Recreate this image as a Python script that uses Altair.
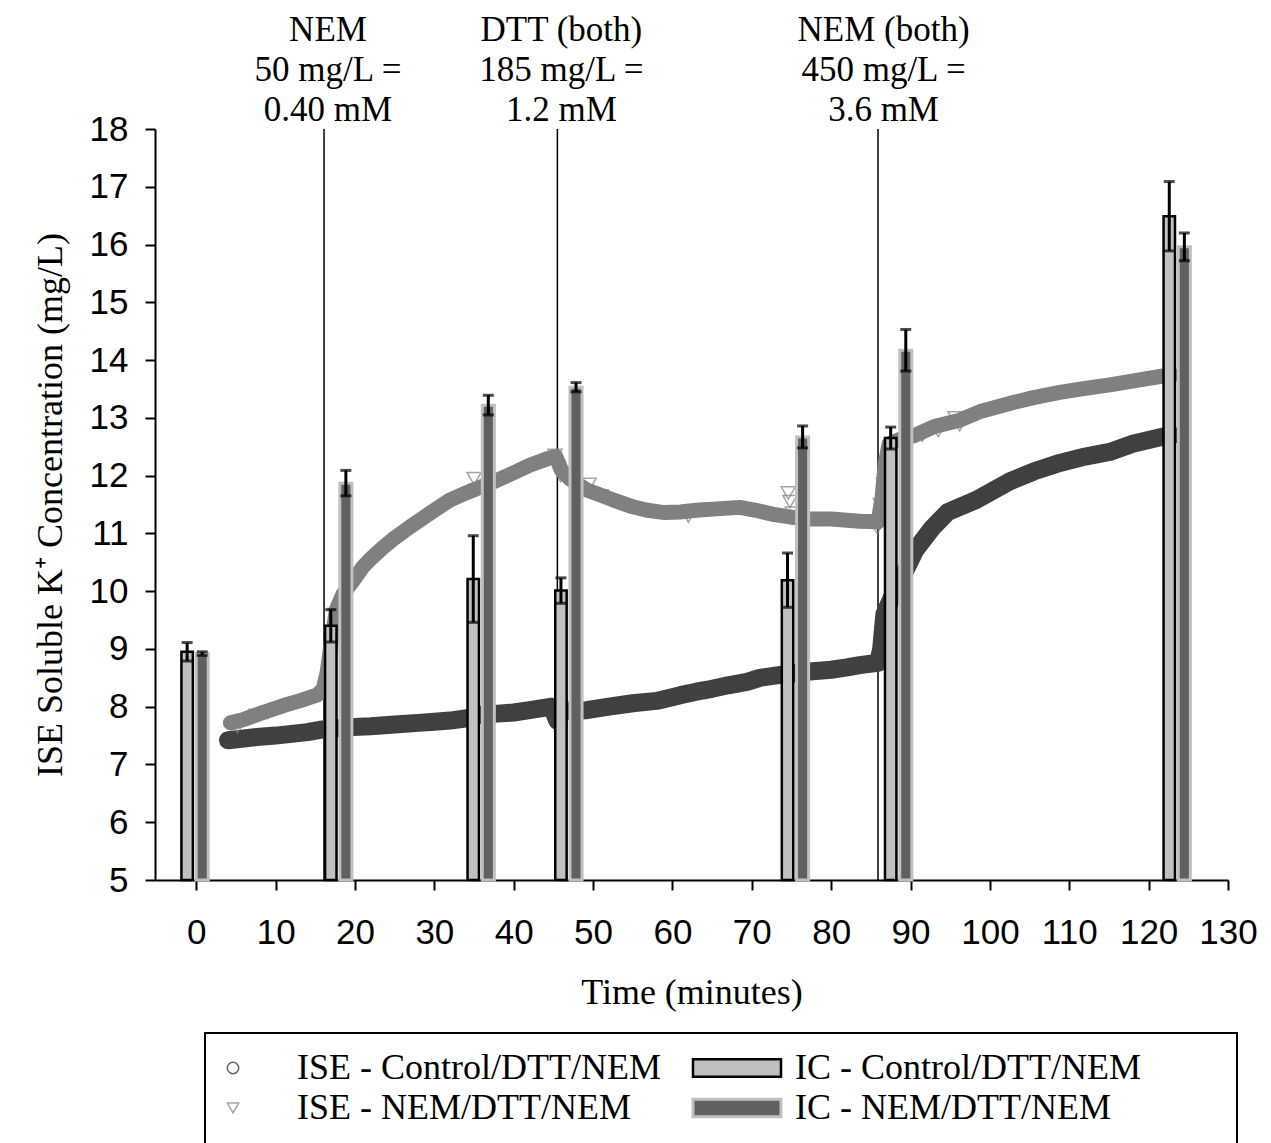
import altair as alt
import pandas as pd

# ---------------- data ----------------
ise_ctrl_t = [4.0, 6.0, 8.0, 10.0, 12.0, 14.0, 15.6, 17.0, 19.8, 22.0, 25.0, 28.0, 30.0, 32.0, 34.1,
              35.8, 38.0, 40.0, 42.0, 44.8, 45.5, 46.2, 47.0, 49.2, 52.0, 55.0, 58.0, 61.0, 63.0, 65.0,
              67.0, 69.4, 71.0, 73.6, 75.0, 77.3, 80.0, 82.0, 83.6, 85.9, 86.3, 86.7, 88.0, 89.5, 90.6,
              92.7, 94.7, 98.3, 102.5, 105.5, 108.8, 112.0, 115.1, 118.0, 121.6, 123.0]
ise_ctrl_v = [7.42, 7.45, 7.48, 7.50, 7.53, 7.56, 7.60, 7.62, 7.65, 7.66, 7.69, 7.72, 7.74, 7.76, 7.80,
              7.86, 7.88, 7.90, 7.94, 8.00, 7.75, 7.92, 7.93, 7.94, 8.00, 8.06, 8.10, 8.20, 8.26, 8.31,
              8.37, 8.43, 8.50, 8.55, 8.57, 8.61, 8.64, 8.68, 8.72, 8.76, 9.00, 9.60, 10.0, 10.4, 10.71,
              11.09, 11.37, 11.58, 11.90, 12.07, 12.22, 12.33, 12.41, 12.55, 12.67, 12.70]

ise_nem_t = [4.3, 6.0, 8.0, 9.3, 11.0, 13.0, 15.2, 16.0, 16.5, 17.0, 17.7, 18.5, 19.8, 21.0, 21.9,
             23.5, 24.8, 27.0, 30.0, 32.0, 34.0, 35.8, 37.9, 40.0, 42.0, 44.2, 45.3, 46.0, 47.0, 49.2,
             51.0, 52.5, 55.0, 56.8, 59.0, 61.0, 63.0, 65.1, 68.5, 70.5, 72.7, 75.0, 77.3, 80.0, 83.6,
             85.9, 86.4, 86.8, 87.3, 88.5, 90.6, 93.0, 96.2, 99.0, 102.5, 105.5, 108.8, 112.0, 115.1,
             118.5, 121.6, 123.0]
ise_nem_v = [7.72, 7.78, 7.88, 7.94, 8.02, 8.10, 8.20, 8.30, 8.60, 9.10, 9.70, 9.95, 10.19, 10.42, 10.55,
             10.75, 10.90, 11.12, 11.40, 11.58, 11.70, 11.80, 11.92, 12.05, 12.18, 12.29, 12.33, 12.10, 11.95, 11.75,
             11.66, 11.58, 11.46, 11.40, 11.36, 11.37, 11.40, 11.42, 11.45, 11.40, 11.33, 11.28, 11.25, 11.25, 11.21,
             11.20, 11.60, 12.20, 12.55, 12.62, 12.70, 12.85, 12.96, 13.12, 13.25, 13.35, 13.44, 13.51, 13.57,
             13.65, 13.72, 13.74]

# scattered open-triangle readings of the ISE NEM series
tri_t = [5.2, 7.5, 9.0, 16.6, 16.9, 17.2, 17.5, 35.0, 35.3, 45.2, 45.6, 45.9, 49.5, 51.0, 62.0,
         74.6, 74.8, 75.1, 85.8, 86.2, 86.6, 91.5, 93.5, 95.6, 96.2]
tri_v = [7.65, 7.85, 7.90, 8.50, 8.85, 9.25, 9.60, 11.95, 11.75, 12.35, 12.15, 12.00, 11.85, 11.65, 11.30,
         11.70, 11.55, 11.35, 11.10, 11.50, 11.85, 12.70, 12.78, 13.00, 12.88]

# IC sample times and values
ic_t = [-0.2, 17.9, 35.85, 46.9, 75.45, 88.45, 123.55]
ic_ctrl_v = [8.95, 9.40, 10.21, 10.01, 10.19, 12.65, 16.49]
ic_ctrl_err = [0.16, 0.28, 0.75, 0.22, 0.47, 0.19, 0.60]
ic_nem_v = [8.92, 11.87, 13.22, 13.53, 12.67, 14.17, 15.96]
ic_nem_err = [0.03, 0.22, 0.17, 0.08, 0.19, 0.36, 0.24]

# additions
add_t = [16.1, 45.5, 85.9]
add_label_t = [16.6, 46.0, 86.6]
add_text = ["NEM\n50 mg/L =\n0.40 mM", "DTT (both)\n185 mg/L =\n1.2 mM", "NEM (both)\n450 mg/L =\n3.6 mM"]

names_ise = ["ISE - Control/DTT/NEM", "ISE - NEM/DTT/NEM"]
names_ic = ["IC - Control/DTT/NEM", "IC - NEM/DTT/NEM"]

# ---------------- tables ----------------
ctrl_df = pd.DataFrame({"t": ise_ctrl_t, "v": ise_ctrl_v})
nem_df = pd.DataFrame({"t": ise_nem_t, "v": ise_nem_v})
tri_df = pd.DataFrame({"t": tri_t, "v": tri_v, "series": names_ise[1]})

OFFSET = 0.95
HALF = {names_ic[0]: 0.72, names_ic[1]: 0.76}
rows = []
for i, t in enumerate(ic_t):
    for name, vals, errs, sign in [(names_ic[0], ic_ctrl_v, ic_ctrl_err, -1),
                                   (names_ic[1], ic_nem_v, ic_nem_err, 1)]:
        c = t + sign * OFFSET
        rows.append({"series": name, "tc": c, "x0": c - HALF[name], "x1": c + HALF[name],
                     "v": vals[i], "lo": vals[i] - errs[i], "hi": vals[i] + errs[i]})
ic_df = pd.DataFrame(rows)
add_df = pd.DataFrame({"t": add_t})
lab_df = pd.DataFrame({"t": add_label_t, "label": add_text})

# ---------------- scales / axes ----------------
xs = alt.Scale(domain=[-5.2, 130], nice=False, zero=False)
ys = alt.Scale(domain=[5, 18], nice=False, zero=False)

SERIF = "Liberation Serif"
common_axis = dict(labelFont="Liberation Sans", labelFontSize=35, labelColor="black",
                   titleFont=SERIF, titleFontSize=36, titleFontWeight="normal",
                   titleColor="black", tickSize=10, tickWidth=2, tickColor="black",
                   domainWidth=2, domainColor="black", grid=False)
x_axis = alt.Axis(values=list(range(0, 131, 10)), title="Time (minutes)", labelPadding=25,
                  titlePadding=25, labelFlush=False, **common_axis)
y_axis = alt.Axis(values=list(range(5, 19)), title="ISE Soluble K\u207A Concentration (mg/L)",
                  labelPadding=17, titlePadding=20, **common_axis)


def X(field):
    return alt.X(field, scale=xs, axis=x_axis)


def Y(field):
    return alt.Y(field, scale=ys, axis=y_axis)


legA = alt.Legend(title=None, orient="none", legendX=60, legendY=921, symbolSize=130,
                  symbolStrokeWidth=1.5, labelFont=SERIF, labelFontSize=36,
                  labelColor="black", labelOffset=46, rowPadding=4, labelLimit=0)
legB = alt.Legend(title=None, orient="none", legendX=564, legendY=921,
                  symbolType="M-4,-0.8H4V0.8H-4Z", symbolSize=484, symbolStrokeWidth=3.5,
                  labelFont=SERIF, labelFontSize=36, labelColor="black",
                  labelOffset=40, rowPadding=4, labelLimit=0)

# ---------------- layers ----------------
rules = alt.Chart(add_df).mark_rule(color="black", strokeWidth=1.5).encode(x=X("t:Q"))

gray_line = alt.Chart(nem_df).mark_line(color="#808080", strokeWidth=15, strokeCap="round",
                                        strokeJoin="round").encode(x=X("t:Q"), y=Y("v:Q"))

dark_line = alt.Chart(ctrl_df).mark_line(color="#404040", strokeWidth=18, strokeCap="round",
                                         strokeJoin="round").encode(x=X("t:Q"), y=Y("v:Q"))

tris = alt.Chart(tri_df).mark_point(filled=False, size=200, strokeWidth=1.5).encode(
    x=X("t:Q"), y=Y("v:Q"),
    shape=alt.Shape("series:N", scale=alt.Scale(domain=names_ise, range=["circle", "triangle-down"]),
                    legend=legA),
    stroke=alt.Stroke("series:N", scale=alt.Scale(domain=names_ise, range=["#222222", "#808080"]),
                      legend=legA))

bars = alt.Chart(ic_df).mark_bar().encode(
    x=X("x0:Q"), x2="x1:Q", y=Y("v:Q"), y2=alt.datum(5),
    fill=alt.Fill("series:N", scale=alt.Scale(domain=names_ic, range=["#c0c0c0", "#606060"]),
                  legend=legB),
    stroke=alt.Stroke("series:N", scale=alt.Scale(domain=names_ic, range=["#000000", "#c0c0c0"]),
                      legend=legB),
    strokeWidth=alt.StrokeWidth("series:N", scale=alt.Scale(domain=names_ic, range=[2.5, 3]),
                                legend=None))

err = alt.Chart(ic_df).mark_rule(color="black", strokeWidth=3).encode(
    x=X("tc:Q"), y=Y("lo:Q"), y2="hi:Q")

caps = alt.Chart(ic_df).transform_fold(["lo", "hi"], as_=["end", "val"]).mark_tick(
    color="black", thickness=3, size=11, orient="horizontal").encode(x=X("tc:Q"), y=Y("val:Q"))

labels = alt.Chart(lab_df).mark_text(font=SERIF, fontSize=35, lineBreak="\n",
                                     lineHeight=40, baseline="top", align="center",
                                     color="black").encode(
    x=X("t:Q"), y=alt.value(-116), text="label:N")

box = alt.Chart(pd.DataFrame({"box": ["legend"]})).mark_rect(
    fill="transparent", stroke="black", strokeWidth=2).encode(
    x=alt.value(50), x2=alt.value(1082), y=alt.value(904), y2=alt.value(1030))

chart = alt.layer(rules, gray_line, dark_line, tris, bars, err, caps, labels, box).resolve_scale(
    stroke="independent", fill="independent", shape="independent", strokeWidth="independent"
).properties(
    width=1073, height=751,
    autosize=alt.AutoSizeParams(type="none"),
    padding={"left": 147, "top": 121, "right": 35, "bottom": 270},
).configure_view(stroke=None, strokeWidth=0)

chart.save("out.html", embed_options={"renderer": "svg", "actions": False})
